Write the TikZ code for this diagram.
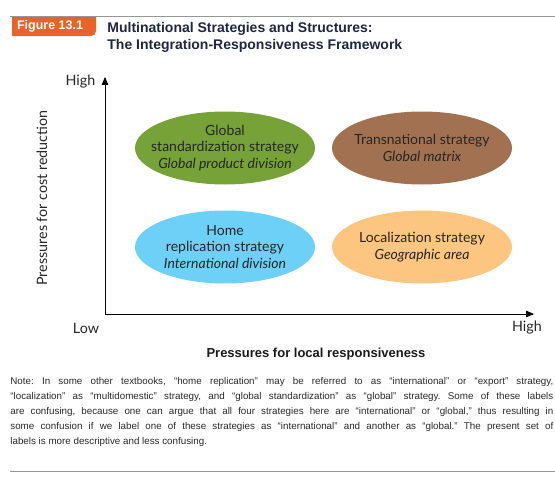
\documentclass[tikz,border=0pt]{standalone}
\usepackage{fontspec}
\setmainfont{Liberation Sans}
\newfontfamily\ovalfont{Lato}
\usetikzlibrary{shapes,arrows,positioning}

\definecolor{figorange}{RGB}{234,98,42}
\definecolor{titlenavy}{RGB}{30,38,66}
\definecolor{stdgreen}{RGB}{118,162,56}
\definecolor{transbrown}{RGB}{161,113,82}
\definecolor{homeblue}{RGB}{109,208,246}
\definecolor{locorange}{RGB}{253,198,128}
\definecolor{rulegray}{RGB}{150,150,150}
\definecolor{notegray}{RGB}{40,40,40}

\tikzset{
  strategy/.style={ellipse, minimum width=180pt, minimum height=73pt,
    inner sep=-16pt, align=center, text=black!85,
    font=\ovalfont\fontsize{14}{16.5}\selectfont},
  axislabel/.style={text=black!85, font=\ovalfont\fontsize{14.3}{16}\selectfont}
}

\begin{document}
\begin{tikzpicture}[x=1pt, y=-1pt, >=triangle 45, line width=0.8pt]
  \useasboundingbox (0,0) rectangle (555,479);
  % header
  \draw [rulegray, line width=1pt] (10,16) -- (555,16);
  \fill [figorange] (12,17) -- (96,17) [rounded corners=5pt] -- (96,36) [sharp corners] -- (12,36) -- cycle;
  \node [text=white, font=\bfseries\fontsize{12.5}{14}\selectfont] (figtag) at (50,26.5) {Figure 13.1};
  \node [anchor=north west, align=left, text=titlenavy, inner sep=0pt,
    font=\bfseries\fontsize{14}{17}\selectfont] (title) at (107,22)
    {Multinational Strategies and Structures:\\The Integration-Responsiveness Framework};

  % axes
  \coordinate (origin) at (105,314);
  \coordinate (ytop) at (105,77);
  \coordinate (xend) at (534,314);
  \draw [->] (origin) -- (ytop);
  \draw [->] (origin) -- (xend);
  \node [axislabel, anchor=east] (yhigh) at (99,82) {High};
  \node [axislabel] (xlow) at (86,328) {Low};
  \node [axislabel] (xhigh) at (527,328) {High};
  \node [axislabel, rotate=90] (ycaption) at (42,198) {Pressures for cost reduction};
  \node [font=\bfseries\fontsize{13}{15}\selectfont, text=black!90] (xcaption) at (316,354)
    {Pressures for local responsiveness};

  % strategies
  \node [strategy, fill=stdgreen] (globalstd) at (225,148)
    {Global\\standardization strategy\\\textit{Global product division}};
  \node [strategy, fill=transbrown] (transnat) at (422,148)
    {Transnational strategy\\\textit{Global matrix}};
  \node [strategy, fill=homeblue] (homerep) at (225,247)
    {Home\\replication strategy\\\textit{International division}};
  \node [strategy, fill=locorange] (localize) at (422,247)
    {Localization strategy\\\textit{Geographic area}};

  % note
  \node [anchor=north west, inner sep=0pt, text width=543pt, align=justify, text=notegray,
    font=\frenchspacing\fontsize{9.8}{15}\selectfont] (note) at (10,377)
    {Note: In some other textbooks, “home replication” may be referred to as “international” or “export” strategy,\linebreak
     “localization” as “multidomestic” strategy, and “global standardization” as “global” strategy. Some of these labels\linebreak
     are confusing, because one can argue that all four strategies here are “international” or “global,” thus resulting in\linebreak
     some confusion if we label one of these strategies as “international” and another as “global.” The present set of\linebreak
     labels is more descriptive and less confusing.};
  \draw [rulegray, line width=1pt] (10,471) -- (555,471);
\end{tikzpicture}
\end{document}
